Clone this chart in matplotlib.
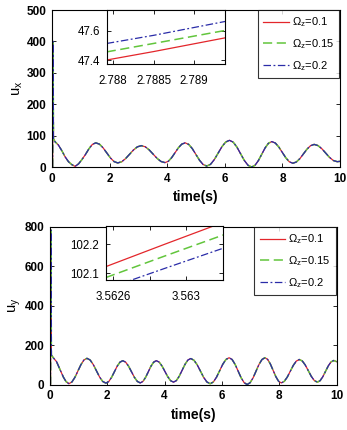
import matplotlib
matplotlib.use("Agg")
import matplotlib.pyplot as plt

plt.rcParams['font.family'] = ['Liberation Sans', 'DejaVu Sans']
plt.rcParams['mathtext.fontset'] = 'custom'
plt.rcParams['mathtext.rm'] = 'Liberation Sans'
plt.rcParams['mathtext.it'] = 'Liberation Sans:italic'
plt.rcParams['mathtext.bf'] = 'Liberation Sans:bold'

# ---------------- data ----------------
series_labels = [r'$\mathrm{\Omega_z}$=0.1', r'$\mathrm{\Omega_z}$=0.15', r'$\mathrm{\Omega_z}$=0.2']

# u_x (top panel)
t_x = [0.02, 0.035, 0.05, 0.1, 0.22, 0.34, 0.45, 0.57, 0.68, 0.80,
       0.92, 1.04, 1.16, 1.28, 1.40, 1.52,
       1.647, 1.773, 1.90, 2.027, 2.153, 2.28,
       2.417, 2.553, 2.69, 2.827, 2.963, 3.1,
       3.237, 3.373, 3.51, 3.647, 3.783, 3.92,
       4.037, 4.153, 4.27, 4.387, 4.503, 4.62,
       4.745, 4.87, 4.995, 5.12, 5.245, 5.37,
       5.502, 5.633, 5.765, 5.897, 6.028, 6.16,
       6.288, 6.417, 6.545, 6.673, 6.802, 6.93,
       7.047, 7.163, 7.28, 7.397, 7.513, 7.63,
       7.752, 7.873, 7.995, 8.117, 8.238, 8.36,
       8.483, 8.607, 8.73, 8.853, 8.977, 9.1,
       9.233, 9.367, 9.5, 9.633, 9.767, 9.9, 10.0]
ux_base = [0, 400, 90, 81, 70, 52, 33, 17, 8, 2,
           10, 24, 40, 58, 72, 77,
           72.7, 61, 45, 29, 17.3, 13,
           16.7, 26.8, 40.5, 54.3, 64.3, 68,
           64.4, 54.5, 41, 27.5, 17.6, 14,
           18.2, 29.8, 45.5, 61.3, 72.8, 77,
           72.0, 58.5, 40, 21.5, 8.0, 3,
           8.5, 23.5, 44, 64.5, 79.5, 85,
           79.3, 63.8, 42.5, 21.3, 5.7, 0,
           5.4, 20.3, 40.5, 60.8, 75.6, 81,
           76.4, 63.8, 46.5, 29.3, 16.6, 12,
           16, 27, 42, 57, 68, 72,
           68.3, 58.3, 44.5, 30.8, 20.7, 17, 18]
ux_01 = ux_base
ux_015 = ux_base
ux_02 = ux_base

# inset of u_x
tx_in = [2.787922, 2.7885, 2.789383]
ux_in_01 = [47.403, 47.46, 47.553]
ux_in_015 = [47.458, 47.515, 47.603]
ux_in_02 = [47.515, 47.57, 47.664]

# u_y (bottom panel)
t_y = [0.02, 0.032, 0.05, 0.12, 0.23, 0.35, 0.47, 0.56, 0.66,
       0.765, 0.87, 0.975, 1.08, 1.185, 1.29,
       1.40, 1.51, 1.62, 1.73, 1.84, 1.95,
       2.048, 2.147, 2.245, 2.343, 2.442, 2.54,
       2.642, 2.743, 2.845, 2.947, 3.048, 3.15,
       3.243, 3.337, 3.43, 3.523, 3.617, 3.71,
       3.81, 3.91, 4.01, 4.11, 4.21, 4.31,
       4.41, 4.51, 4.61, 4.71, 4.81, 4.91,
       5.023, 5.137, 5.25, 5.363, 5.477, 5.59,
       5.70, 5.81, 5.92, 6.03, 6.14, 6.25,
       6.355, 6.46, 6.565, 6.67, 6.775, 6.88,
       6.983, 7.087, 7.19, 7.293, 7.397, 7.5,
       7.595, 7.69, 7.785, 7.88, 7.975, 8.07,
       8.175, 8.28, 8.385, 8.49, 8.595, 8.7,
       8.805, 8.91, 9.015, 9.12, 9.225, 9.33,
       9.425, 9.52, 9.615, 9.71, 9.805, 9.9, 10.0]
uy_base = [0, 785, 150, 135, 116, 76, 37, 15, 4,
           12.6, 36.3, 68.5, 100.8, 124.4, 133,
           124.6, 101.5, 70, 38.5, 15.4, 7,
           14.6, 35.5, 64, 92.5, 113.4, 121,
           113.4, 92.8, 64.5, 36.3, 15.6, 8,
           15.6, 36.3, 64.5, 92.8, 113.4, 121,
           113.7, 93.8, 66.5, 39.3, 19.3, 12,
           20, 42, 72, 102, 124, 132,
           123.4, 100, 68, 36, 12.6, 4,
           12.8, 37, 70, 103, 127.2, 136,
           126.9, 102, 68, 34, 9.1, 0,
           9.1, 34, 68, 102, 126.9, 136,
           127.4, 104, 72, 40, 16.6, 8,
           16, 37.8, 67.5, 97.3, 119, 127,
           119.3, 98.3, 69.5, 40.8, 19.7, 12,
           19.4, 39.5, 67, 94.5, 114.6, 122, 116]
uy_01 = uy_base
uy_015 = uy_base
uy_02 = uy_base

# inset of u_y
ty_in = [3.56256, 3.56288, 3.563205]
uy_in_01 = [102.123, 102.200, 102.277]
uy_in_015 = [102.085, 102.159, 102.233]
uy_in_02 = [102.045, 102.116, 102.187]

# tick labels
x_ticks = [0, 2, 4, 6, 8, 10]
ux_ticks = [0, 100, 200, 300, 400, 500]
uy_ticks = [0, 200, 400, 600, 800]
tx_in_ticks = [2.788, 2.7885, 2.789]
tx_in_ticklabels = ['2.788', '2.7885', '2.789']
ux_in_ticks = [47.4, 47.6]
ty_in_ticks = [3.5626, 3.5628, 3.563]
ty_in_ticklabels = ['3.5626', '', '3.563']
uy_in_ticks = [102.1, 102.2]

# ---------------- style ----------------
colors = ['#e3262b', '#62c53c', '#2a2ca8']
styles = [dict(ls='-', lw=0.9),
          dict(ls=(0, (6, 3)), lw=1.1),
          dict(ls=(0, (6, 2, 1.5, 2)), lw=0.9)]

fig = plt.figure(figsize=(3.47, 4.30), dpi=100)


def style_axes(ax, fs, bold, pad):
    ax.tick_params(direction='in', top=True, right=True, length=3, width=0.6,
                   labelsize=fs, pad=pad)
    for sp in ax.spines.values():
        sp.set_linewidth(0.8)
        sp.set_color('black')
    if bold:
        for lab in ax.get_xticklabels() + ax.get_yticklabels():
            lab.set_fontweight('bold')


def panel(rect, t, ys, yticks, ylim, ylabel, inset_rect, t_in, ys_in,
          in_xlim, in_ylim, in_xt, in_xtl, in_yt):
    ax = fig.add_axes(rect)
    for y, c, s, lab in zip(ys, colors, styles, series_labels):
        ax.plot(t, y, color=c, label=lab, **s)
    ax.set_xlim(0, 10)
    ax.set_ylim(*ylim)
    ax.set_xticks(x_ticks)
    ax.set_yticks(yticks)
    style_axes(ax, 8.5, True, 4)
    ax.set_xlabel('time(s)', fontsize=10, fontweight='bold', labelpad=4)
    ax.set_ylabel(ylabel, fontsize=10.5, labelpad=1)
    leg = ax.legend(loc='upper right', bbox_to_anchor=(0.998, 1.0), fontsize=8,
                    frameon=True, fancybox=False, borderaxespad=0.0,
                    handlelength=2.3, handletextpad=0.25, labelspacing=0.7,
                    borderpad=0.5)
    leg.get_frame().set_edgecolor('black')
    leg.get_frame().set_linewidth(0.8)

    axi = fig.add_axes(inset_rect)
    for y, c, s in zip(ys_in, colors, styles):
        axi.plot(t_in, y, color=c, **s)
    axi.set_xlim(*in_xlim)
    axi.set_ylim(*in_ylim)
    axi.set_xticks(in_xt)
    axi.set_xticklabels(in_xtl)
    axi.set_yticks(in_yt)
    axi.set_yticklabels([f'{v:g}' for v in in_yt])
    style_axes(axi, 8.3, False, 5)
    axi.tick_params(axis='x', pad=8)
    return ax, axi


panel([0.150, 0.6116, 0.830, 0.365], t_x, [ux_01, ux_015, ux_02], ux_ticks,
      (0, 500), r'$\mathrm{u_x}$',
      [0.3075, 0.8512, 0.341, 0.1256], tx_in, [ux_in_01, ux_in_015, ux_in_02],
      (2.787922, 2.789383), (47.376, 47.742), tx_in_ticks, tx_in_ticklabels,
      ux_in_ticks)

panel([0.144, 0.1058, 0.826, 0.3663], t_y, [uy_01, uy_015, uy_02], uy_ticks,
      (0, 800), r'$\mathrm{u_y}$',
      [0.3055, 0.35, 0.338, 0.1233], ty_in, [uy_in_01, uy_in_015, uy_in_02],
      (3.56256, 3.563205), (102.078, 102.2625), ty_in_ticks, ty_in_ticklabels,
      uy_in_ticks)

fig.savefig('out.png', dpi=100)
